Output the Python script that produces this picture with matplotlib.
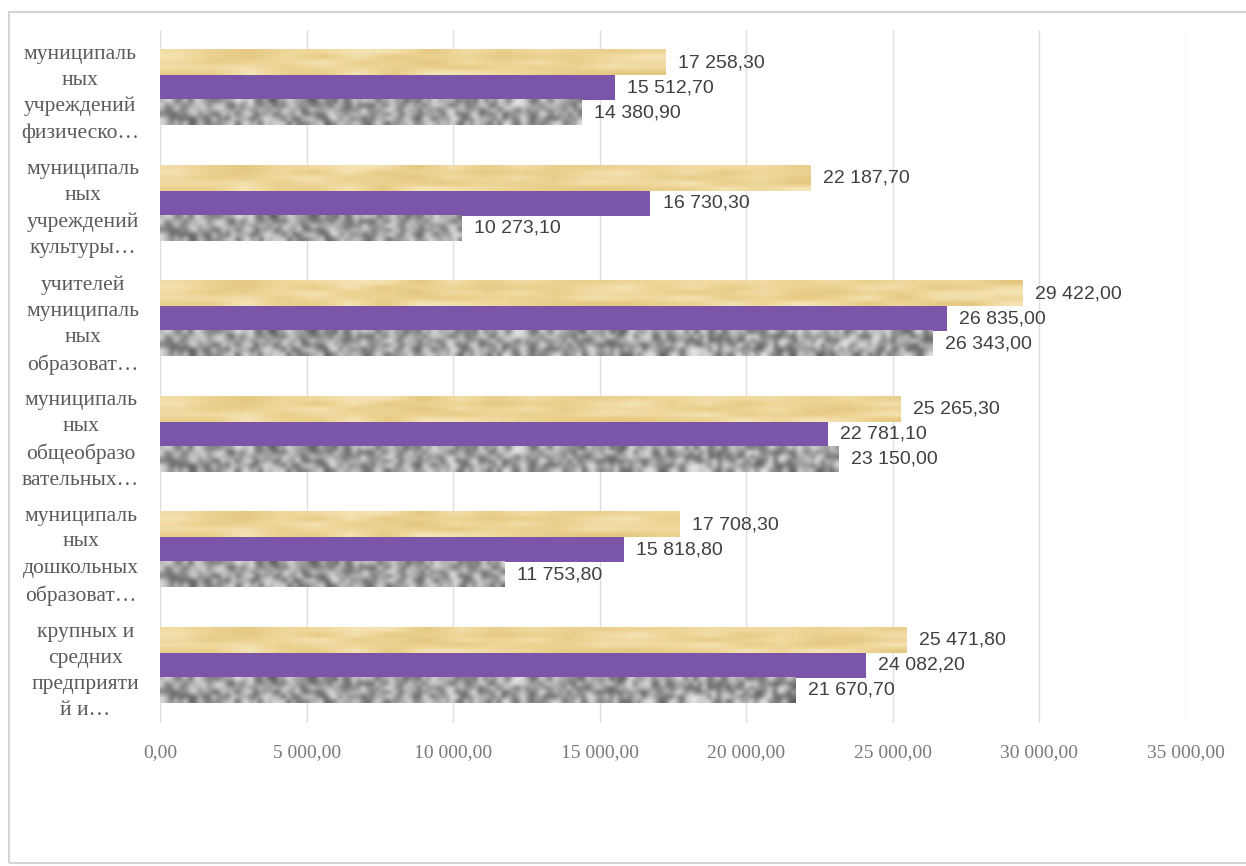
import numpy as np
import matplotlib
matplotlib.use("Agg")
import matplotlib.pyplot as plt
from matplotlib.patches import Rectangle

# categories, bottom to top
categories = [
    "крупных и\nсредних\nпредприяти\nй и…",
    "муниципаль\nных\nдошкольных\nобразоват…",
    "муниципаль\nных\nобщеобразо\nвательных…",
    "учителей\nмуниципаль\nных\nобразоват…",
    "муниципаль\nных\nучреждений\nкультуры…",
    "муниципаль\nных\nучреждений\nфизическо…",
]
series_gold = [25471.80, 17708.30, 25265.30, 29422.00, 22187.70, 17258.30]
series_purple = [24082.20, 15818.80, 22781.10, 26835.00, 16730.30, 15512.70]
series_gray = [21670.70, 11753.80, 23150.00, 26343.00, 10273.10, 14380.90]
x_ticks = [0, 5000, 10000, 15000, 20000, 25000, 30000, 35000]


def fmt(v):
    return f"{v:,.2f}".replace(",", " ").replace(".", ",")


# textures for the gold and granite bars (styling only)
rng = np.random.default_rng(7)
gray_tex = rng.random((6, 220))
gold_tex = rng.random((5, 30))

fig = plt.figure(figsize=(12.46, 8.66), dpi=100)
ax = fig.add_axes([160 / 1246, 1 - 723 / 866, 1026 / 1246, 693 / 866])

y = np.arange(len(categories))
h = 0.2167

bars_gold = ax.barh(y + h, series_gold, height=h, color="#eed597", zorder=2)
bars_purple = ax.barh(y, series_purple, height=h, color="#7b55a8", zorder=2)
bars_gray = ax.barh(y - h, series_gray, height=h, color="#a8a8a8", zorder=2)

gold_cmap = matplotlib.colors.LinearSegmentedColormap.from_list(
    "gold", ["#e4c67f", "#eed597", "#f5e4b6"])
for b in bars_gray:
    x0, y0, w, hh = b.get_x(), b.get_y(), b.get_width(), b.get_height()
    ax.imshow(gray_tex[:, : max(2, int(220 * w / 35000))], extent=[x0, x0 + w, y0, y0 + hh],
              aspect="auto", cmap="gray", vmin=-0.6, vmax=1.15,
              interpolation="bicubic", zorder=3)
for b in bars_gold:
    x0, y0, w, hh = b.get_x(), b.get_y(), b.get_width(), b.get_height()
    ax.imshow(gold_tex[:, : max(2, int(30 * w / 35000))], extent=[x0, x0 + w, y0, y0 + hh],
              aspect="auto", cmap=gold_cmap, interpolation="bilinear", zorder=3)

for bars in (bars_gold, bars_purple, bars_gray):
    for b in bars:
        ax.annotate(fmt(b.get_width()), (b.get_width(), b.get_y() + b.get_height() / 2),
                    xytext=(9, 0), textcoords="offset points", va="center", ha="left",
                    fontsize=14, color="#404040", family="Liberation Sans", zorder=4)

ax.set_xlim(0, 35000)
ax.set_ylim(-0.5, len(categories) - 0.5)
ax.set_xticks(x_ticks)
ax.set_xticklabels([fmt(v) for v in x_ticks], family="Liberation Serif",
                   fontsize=14, color="#7a7a7a")
ax.set_yticks(y)
ax.set_yticklabels(categories, family="Liberation Serif", fontsize=15.5,
                   color="#5a5a5a", multialignment="center", linespacing=1.5)
ax.tick_params(axis="x", length=0, pad=15)
ax.tick_params(axis="y", length=0, pad=15)
ax.grid(axis="x", color="#dedede", linewidth=1, zorder=0)
for s in ax.spines.values():
    s.set_visible(False)

fig.patches.append(Rectangle((9 / 1246, 3 / 866), 1.0, 851 / 866, transform=fig.transFigure,
                             fill=False, edgecolor="#d4d4d4", linewidth=1.5))

fig.savefig("out.png", dpi=100)
